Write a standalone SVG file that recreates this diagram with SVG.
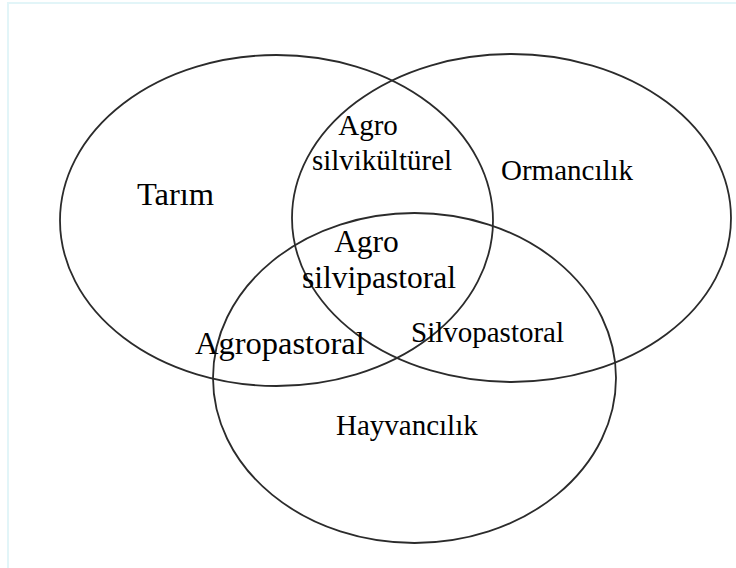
<svg xmlns="http://www.w3.org/2000/svg" width="736" height="568" viewBox="0 0 736 568">
<style>
.frame{fill:#ffffff;stroke:#e2f5f8;stroke-width:2}
.set{fill:none;stroke:#2b2b2b;stroke-width:1.8}
.lbl{font-family:"Liberation Serif","Times New Roman",serif;fill:#000000}
.s{font-size:29px}
.b{font-size:31.5px}
.xl{font-size:32.5px}
</style>
<rect class="frame" x="8" y="3" width="740" height="580"/>
<g id="tarim">
<ellipse class="set" cx="276.5" cy="220.5" rx="216.5" ry="165.5"/>
<text class="lbl xl" x="137" y="205">Tarım</text>
</g>
<g id="ormancilik">
<ellipse class="set" cx="511.5" cy="218" rx="219.5" ry="164"/>
<text class="lbl s" x="501" y="180">Ormancılık</text>
</g>
<g id="hayvancilik">
<ellipse class="set" cx="414.5" cy="378" rx="201.5" ry="165"/>
<text class="lbl s" x="336" y="435">Hayvancılık</text>
</g>
<g id="agrosilvikulturel">
<text class="lbl s" x="368" y="135" text-anchor="middle">Agro</text>
<text class="lbl s" x="382" y="170" text-anchor="middle">silvikültürel</text>
</g>
<g id="agrosilvipastoral">
<text class="lbl b" x="366.5" y="252" text-anchor="middle">Agro</text>
<text class="lbl b" x="379" y="288" text-anchor="middle">silvipastoral</text>
</g>
<g id="agropastoral">
<text class="lbl xl" x="195" y="354">Agropastoral</text>
</g>
<g id="silvopastoral">
<text class="lbl s" x="411" y="342">Silvopastoral</text>
</g>
<g id="connectors"/>
</svg>
